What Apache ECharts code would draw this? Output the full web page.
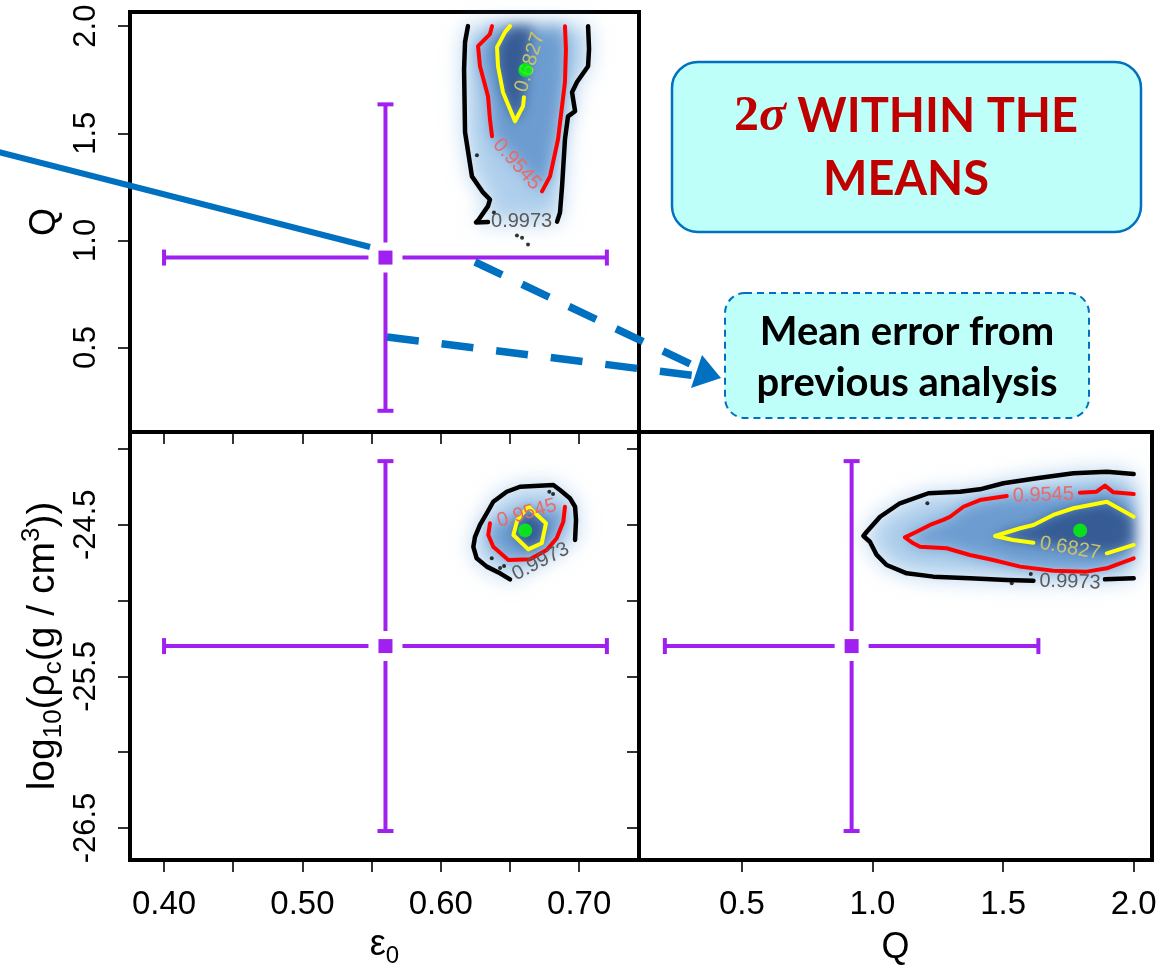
<!DOCTYPE html>
<html>
<head>
<meta charset="utf-8">
<title>Posterior contours vs previous analysis</title>
<script src="https://cdn.jsdelivr.net/npm/echarts@6/dist/echarts.min.js"></script>
<style>
  html, body { margin: 0; padding: 0; background: #fff; }
  #chart { width: 1160px; height: 974px; }
</style>
</head>
<body>
<div id="chart"></div>
<script>
// ---------- axis ranges and ticks ----------
const epsRange = [0.3754, 0.7432];
const qRangeV = [0.106, 2.066];      // Q as vertical axis
const qRangeH = [0.106, 2.070];      // Q as horizontal axis
const rhoRange = [-26.711, -23.888];
const epsTicks = [0.40, 0.45, 0.50, 0.55, 0.60, 0.65, 0.70];
const epsTickLabels = [0.40, 0.50, 0.60, 0.70];
const qTicks = [0.5, 1.0, 1.5, 2.0];
const rhoTicks = [-24.0, -24.5, -25.0, -25.5, -26.0, -26.5];
const rhoTickLabels = [-24.5, -25.5, -26.5];

// ---------- previous analysis: [mean, error] ----------
const prevEps = [0.56, 0.16];
const prevQ = [0.92, 0.715];
const prevRho = [-25.30, 1.22];

// ---------- best fit ----------
const bestEps = 0.661;
const bestQ = 1.795;
const bestRho = -24.537;

// ---------- credible contours (each level: list of line pieces, gaps hold the level label) ----------
// eps0 - Q
const epsQ9973 = [
  [[0.6196,2.0],[0.6175,1.926],[0.6168,1.799],[0.6175,1.505],[0.6225,1.299],[0.6305,1.224],[0.6355,1.191],[0.6341,1.160],[0.6269,1.093],[0.6254,1.084],[0.6341,1.086]],
  [[0.6840,1.088],[0.6861,1.130],[0.6876,1.252],[0.6897,1.472],[0.6919,1.579],[0.6970,1.603],[0.6948,1.692],[0.6984,1.739],[0.7064,1.813],[0.7071,1.893],[0.7064,2.0]]
];
const epsQ9545 = [
  [[0.6370,2.0],[0.6355,1.963],[0.6269,1.907],[0.6283,1.813],[0.6341,1.673],[0.6355,1.565],[0.6370,1.486]],
  [[0.6731,1.229],[0.6789,1.299],[0.6847,1.472],[0.6897,1.739],[0.6904,1.893],[0.6897,2.0]]
];
const epsQ6827 = [
  [[0.6500,2.0],[0.6464,1.972],[0.6406,1.902],[0.6413,1.813],[0.6449,1.692],[0.6536,1.556],[0.6594,1.626],[0.6601,1.668]],
  [[0.6660,2.0]]
];
const epsQLabels = [[0.6644,1.831,'0.6827',73],[0.6550,1.355,'0.9545',-48],[0.6584,1.090,'0.9973',0]];
const epsQDots = [[0.6261,1.397],[0.6384,1.130],[0.6550,1.023],[0.6587,1.013],[0.6630,0.981]];

// eps0 - log10(rho_c)
const epsRho9973 = [
  [[0.6970,-24.600],[0.6977,-24.468],[0.6970,-24.381],[0.6933,-24.325],[0.6861,-24.271],[0.6813,-24.238],[0.6572,-24.249],[0.6476,-24.282],[0.6379,-24.348],[0.6332,-24.424],[0.6283,-24.501],[0.6247,-24.579],[0.6235,-24.645],[0.6259,-24.721],[0.6332,-24.776],[0.6428,-24.820],[0.6500,-24.860]]
];
const epsRho9545 = [
  [[0.6355,-24.490],[0.6343,-24.567],[0.6379,-24.645],[0.6488,-24.732],[0.6644,-24.728],[0.6765,-24.666],[0.6837,-24.589],[0.6885,-24.480],[0.6897,-24.381]]
];
const epsRho6827 = [
  [[0.6632,-24.381],[0.6760,-24.490],[0.6729,-24.622],[0.6632,-24.662],[0.6524,-24.567],[0.6553,-24.468],[0.6632,-24.381]]
];
const epsRhoLabels = [[0.6621,-24.424,'0.9545',16],[0.6722,-24.743,'0.9973',27]];
const epsRhoDots = [[0.6784,-24.282],[0.6811,-24.297],[0.6368,-24.721],[0.6428,-24.785],[0.6457,-24.772]];

// Q - log10(rho_c)
const qRho9973 = [
  [[2.0,-24.165],[1.897,-24.150],[1.769,-24.160],[1.629,-24.193],[1.501,-24.226],[1.411,-24.266],[1.335,-24.282],[1.214,-24.292],[1.105,-24.358],[1.029,-24.447],[0.978,-24.546],[0.965,-24.574],[0.990,-24.612],[1.016,-24.699],[1.054,-24.765],[1.131,-24.820],[1.233,-24.842],[1.373,-24.853],[1.514,-24.864],[1.616,-24.869]],
  [[1.890,-24.860],[2.0,-24.853]]
];
const qRho9545 = [
  [[2.0,-24.297],[1.922,-24.286],[1.890,-24.242],[1.858,-24.282],[1.794,-24.288]],
  [[1.514,-24.310],[1.411,-24.337],[1.348,-24.381],[1.297,-24.447],[1.271,-24.468],[1.220,-24.501],[1.169,-24.546],[1.124,-24.583],[1.156,-24.622],[1.182,-24.645],[1.284,-24.655],[1.373,-24.699],[1.462,-24.732],[1.565,-24.776],[1.692,-24.803],[1.820,-24.809],[1.897,-24.787],[1.948,-24.754],[2.0,-24.721]]
];
const qRho6827 = [
  [[2.0,-24.447],[1.897,-24.348],[1.769,-24.391],[1.692,-24.435],[1.616,-24.501],[1.565,-24.523],[1.469,-24.574],[1.538,-24.600],[1.616,-24.618]],
  [[1.897,-24.688],[2.0,-24.633]]
];
const qRhoLabels = [[1.654,-24.304,'0.9545',2],[1.756,-24.655,'0.6827',-10],[1.756,-24.877,'0.9973',-2]];
const qRhoDots = [[1.210,-24.358],[1.606,-24.825],[1.533,-24.886]];

// ---------- styles ----------
const FONT = '"Liberation Sans", Arial, sans-serif';
const PURPLE = '#A020F0';
const BLUE = '#0070C0';
const levelStyle = {
  '0.9973': { line: '#000000', label: '#5a5a5a', width: 4.5, shade: 'rgba(125,178,224,0.62)', blur: 22 },
  '0.9545': { line: '#FF0000', label: '#E86A6A', width: 4,   shade: 'rgba(55,115,185,0.55)',  blur: 16 },
  '0.6827': { line: '#FFFF00', label: '#C8C46A', width: 4,   shade: 'rgba(20,50,110,0.60)',   blur: 12 }
};

const panels = [
  { grid: 0, contours: { '0.9973': epsQ9973, '0.9545': epsQ9545, '0.6827': epsQ6827 }, labels: epsQLabels, dots: epsQDots, best: [bestEps, bestQ], prev: [prevEps[0], prevQ[0], prevEps[1], prevQ[1]] },
  { grid: 1, contours: { '0.9973': epsRho9973, '0.9545': epsRho9545, '0.6827': epsRho6827 }, labels: epsRhoLabels, dots: epsRhoDots, best: [bestEps, bestRho], prev: [prevEps[0], prevRho[0], prevEps[1], prevRho[1]] },
  { grid: 2, contours: { '0.9973': qRho9973, '0.9545': qRho9545, '0.6827': qRho6827 }, labels: qRhoLabels, dots: qRhoDots, best: [bestQ, bestRho], prev: [prevQ[0], prevRho[0], prevQ[1], prevRho[1]] }
];
const levelOrder = ['0.9973', '0.9545', '0.6827'];

// ---------- series builders ----------
function shadeSeries(p) {
  // soft density: each closed contour region is blurred (only its shadow is painted)
  const rings = levelOrder.map(lv => ({ pts: [].concat(...p.contours[lv]), st: levelStyle[lv] }));
  const OFF = 5000;
  return {
    type: 'custom', coordinateSystem: 'cartesian2d', xAxisIndex: p.grid, yAxisIndex: p.grid,
    silent: true, clip: false, z: 1,
    data: rings.map(r => r.pts[0]),
    renderItem: (params, api) => {
      const r = rings[params.dataIndex];
      const pts = r.pts.map(q => { const c = api.coord(q); return [c[0] - OFF, c[1]]; });
      return { type: 'polygon', shape: { points: pts },
        style: { fill: '#000', shadowBlur: r.st.blur, shadowColor: r.st.shade, shadowOffsetX: OFF, shadowOffsetY: 0 } };
    }
  };
}

function contourSeries(p) {
  const pieces = [];
  levelOrder.forEach(lv => p.contours[lv].forEach(seg => pieces.push({ pts: seg, st: levelStyle[lv], lv })));
  return {
    type: 'custom', coordinateSystem: 'cartesian2d', xAxisIndex: p.grid, yAxisIndex: p.grid,
    silent: true, clip: false, z: 3,
    data: pieces.map(s => s.pts[0]),
    renderItem: (params, api) => {
      const s = pieces[params.dataIndex];
      if (s.pts.length < 2) return null;
      return { type: 'polyline', shape: { points: s.pts.map(q => api.coord(q)) },
        style: { stroke: s.st.line, lineWidth: s.st.width, fill: null, lineJoin: 'round', lineCap: 'round' } };
    }
  };
}

function labelSeries(p) {
  return {
    type: 'custom', coordinateSystem: 'cartesian2d', xAxisIndex: p.grid, yAxisIndex: p.grid,
    silent: true, clip: false, z: 4,
    data: p.labels.map(l => [l[0], l[1]]),
    renderItem: (params, api) => {
      const l = p.labels[params.dataIndex];
      const c = api.coord([l[0], l[1]]);
      return { type: 'text', x: c[0], y: c[1], rotation: l[3] * Math.PI / 180,
        style: { text: l[2], fill: levelStyle[l[2]].label, font: '20px ' + FONT, align: 'center', verticalAlign: 'middle' } };
    }
  };
}

function crossSeries(p) {
  return {
    type: 'custom', coordinateSystem: 'cartesian2d', xAxisIndex: p.grid, yAxisIndex: p.grid,
    silent: true, clip: false, z: 2,
    data: [p.prev],
    renderItem: (params, api) => {
      const mx = api.value(0), my = api.value(1), sx = api.value(2), sy = api.value(3);
      const c = api.coord([mx, my]);
      const l = api.coord([mx - sx, my])[0], r = api.coord([mx + sx, my])[0];
      const t = api.coord([mx, my + sy])[1], b = api.coord([mx, my - sy])[1];
      const gx = 17, gy = 15, cap = 8, half = 7;
      const ls = { stroke: PURPLE, lineWidth: 4, lineCap: 'butt' };
      const seg = (x1, y1, x2, y2) => ({ type: 'line', shape: { x1, y1, x2, y2 }, style: ls });
      return { type: 'group', children: [
        seg(l, c[1], c[0] - gx, c[1]), seg(c[0] + gx, c[1], r, c[1]),
        seg(c[0], t, c[0], c[1] - gy), seg(c[0], c[1] + gy, c[0], b),
        seg(l, c[1] - cap, l, c[1] + cap), seg(r, c[1] - cap, r, c[1] + cap),
        seg(c[0] - cap, t, c[0] + cap, t), seg(c[0] - cap, b, c[0] + cap, b),
        { type: 'rect', shape: { x: c[0] - half, y: c[1] - half, width: 2 * half, height: 2 * half }, style: { fill: PURPLE } }
      ] };
    }
  };
}

function dotSeries(p) {
  return { type: 'scatter', xAxisIndex: p.grid, yAxisIndex: p.grid, silent: true, z: 3,
    symbol: 'circle', symbolSize: 4, itemStyle: { color: '#000' }, data: p.dots };
}
function bestSeries(p) {
  return { type: 'scatter', xAxisIndex: p.grid, yAxisIndex: p.grid, silent: true, z: 5,
    symbol: 'circle', symbolSize: 14, itemStyle: { color: '#00FF00' }, data: [p.best] };
}

const series = [];
panels.forEach(p => series.push(shadeSeries(p), crossSeries(p), contourSeries(p), dotSeries(p), labelSeries(p), bestSeries(p)));

// ---------- axes ----------
const tick = values => ({ show: true, inside: false, length: 12, customValues: values, lineStyle: { color: '#000', width: 1.6 } });
const noLabel = { show: false };
const lab = (values, digits, rotate, margin) => ({ show: true, customValues: values, rotate: rotate, margin: margin,
  fontSize: rotate ? 31 : 33, fontFamily: FONT, color: '#000', formatter: v => Number(v).toFixed(digits) });
const base = { type: 'value', axisLine: { show: false }, splitLine: { show: false } };

const rich = {
  t: { fontSize: 36, fontFamily: FONT, color: '#000', lineHeight: 46 },
  s: { fontSize: 24, fontFamily: FONT, color: '#000', lineHeight: 24, verticalAlign: 'bottom' },
  p: { fontSize: 24, fontFamily: FONT, color: '#000', lineHeight: 24, verticalAlign: 'top' }
};
const richBig = {
  t: { fontSize: 39, fontFamily: FONT, color: '#000', lineHeight: 48 },
  s: { fontSize: 26, fontFamily: FONT, color: '#000', lineHeight: 26, verticalAlign: 'bottom' },
  p: { fontSize: 26, fontFamily: FONT, color: '#000', lineHeight: 26, verticalAlign: 'top' }
};

const option = {
  animation: false,
  backgroundColor: '#fff',
  grid: [
    { left: 130, top: 12, width: 509, height: 420, show: true, borderColor: '#000', borderWidth: 4, backgroundColor: 'transparent' },
    { left: 130, top: 432, width: 509, height: 428, show: true, borderColor: '#000', borderWidth: 4, backgroundColor: 'transparent' },
    { left: 639, top: 432, width: 513, height: 428, show: true, borderColor: '#000', borderWidth: 4, backgroundColor: 'transparent' }
  ],
  xAxis: [
    Object.assign({}, base, { gridIndex: 0, min: epsRange[0], max: epsRange[1], axisTick: tick(epsTicks), axisLabel: noLabel }),
    Object.assign({}, base, { gridIndex: 1, min: epsRange[0], max: epsRange[1], axisTick: tick(epsTicks), axisLabel: lab(epsTickLabels, 2, 0, 28),
      name: '{t|ε}{s|0}', nameLocation: 'middle', nameGap: 62, nameTextStyle: { rich } }),
    Object.assign({}, base, { gridIndex: 2, min: qRangeH[0], max: qRangeH[1], axisTick: tick(qTicks), axisLabel: lab(qTicks, 1, 0, 28),
      name: 'Q', nameLocation: 'middle', nameGap: 70, nameTextStyle: { fontSize: 36, fontFamily: FONT, color: '#000' } })
  ],
  yAxis: [
    Object.assign({}, base, { gridIndex: 0, min: qRangeV[0], max: qRangeV[1], axisTick: tick(qTicks), axisLabel: lab(qTicks, 1, 90, 28),
      name: 'Q', nameLocation: 'middle', nameRotate: 90, nameGap: 67, nameTextStyle: { fontSize: 36, fontFamily: FONT, color: '#000' } }),
    Object.assign({}, base, { gridIndex: 1, min: rhoRange[0], max: rhoRange[1], axisTick: tick(rhoTicks), axisLabel: lab(rhoTickLabels, 1, 90, 28),
      name: '{t|log}{s|10}{t|(ρ}{s|c}{t|(g / cm}{p|3}{t|))}', nameLocation: 'middle', nameRotate: 90, nameGap: 63, nameTextStyle: { rich: richBig } }),
    Object.assign({}, base, { gridIndex: 2, min: rhoRange[0], max: rhoRange[1], axisTick: tick(rhoTicks), axisLabel: noLabel })
  ],
  series: series,
  graphic: [
    // pointer from the left towards the previous-analysis mean
    { type: 'line', z: 100, shape: { x1: -5, y1: 151, x2: 370, y2: 247 }, style: { stroke: BLUE, lineWidth: 6 } },
    { type: 'line', z: 100, shape: { x1: 475, y1: 262, x2: 701, y2: 369 }, style: { stroke: BLUE, lineWidth: 7.5, lineDash: [30, 22] } },
    { type: 'line', z: 100, shape: { x1: 387, y1: 337, x2: 698, y2: 376 }, style: { stroke: BLUE, lineWidth: 7.5, lineDash: [32, 23] } },
    { type: 'polygon', z: 100, shape: { points: [[721, 378], [691, 388], [702, 355]] }, style: { fill: BLUE } },
    // headline box
    { type: 'rect', z: 100, shape: { x: 672, y: 62, width: 469, height: 170, r: 26 }, style: { fill: '#BEFFFA', stroke: BLUE, lineWidth: 2.5 } },
    { type: 'text', z: 101, x: 906, y: 117, style: {
        text: '{n|2}{s|σ}{w| WITHIN THE}', align: 'center', verticalAlign: 'middle',
        rich: {
          n: { fontSize: 50, fontFamily: '"Liberation Serif", serif', fontWeight: 'bold', fill: '#C00000' },
          s: { fontSize: 50, fontFamily: '"Liberation Serif", serif', fontStyle: 'italic', fontWeight: 'bold', fill: '#C00000' },
          w: { fontSize: 47, fontFamily: 'Lato, "Open Sans", sans-serif', fontWeight: 'bold', fill: '#C00000' }
        } } },
    { type: 'text', z: 101, x: 906, y: 180, style: { text: 'MEANS', align: 'center', verticalAlign: 'middle',
        font: 'bold 47px Lato, "Open Sans", sans-serif', fill: '#C00000' } },
    // note box
    { type: 'rect', z: 100, shape: { x: 725, y: 293, width: 364, height: 125, r: 20 }, style: { fill: '#BEFFFA', stroke: BLUE, lineWidth: 2, lineDash: [7, 5] } },
    { type: 'text', z: 101, x: 907, y: 332, style: { text: 'Mean error from', align: 'center', verticalAlign: 'middle',
        font: 'bold 40px Lato, "Open Sans", sans-serif', fill: '#000' } },
    { type: 'text', z: 101, x: 907, y: 383, style: { text: 'previous analysis', align: 'center', verticalAlign: 'middle',
        font: 'bold 40px Lato, "Open Sans", sans-serif', fill: '#000' } }
  ]
};

const chart = echarts.init(document.getElementById('chart'), null, { renderer: 'canvas' });
chart.setOption(option);
</script>
</body>
</html>
